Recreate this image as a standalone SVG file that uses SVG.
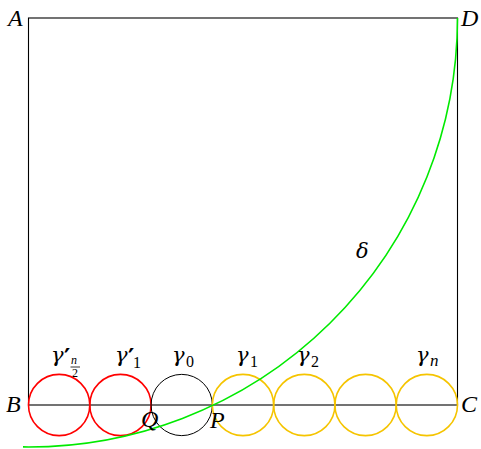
<svg xmlns="http://www.w3.org/2000/svg" width="481" height="449" viewBox="0 0 481 449">
<style>
.lbl{font-family:"Liberation Serif","Times New Roman",serif;font-style:italic;font-size:24px;fill:#000}
.g{font-family:"DejaVu Serif","Liberation Serif",serif;font-style:italic;font-size:21px;fill:#000}
.sub{font-family:"Liberation Serif","Times New Roman",serif;font-style:normal;font-size:16px;fill:#000}
.pr{font-family:"DejaVu Sans",sans-serif;font-style:normal;font-weight:bold;font-size:24px;fill:#000}
.subi{font-family:"Liberation Serif","Times New Roman",serif;font-style:italic;font-size:17px;fill:#000}
.frac{font-family:"Liberation Serif","Times New Roman",serif;font-size:12px;fill:#000}
.red{fill:none;stroke:#ff0000;stroke-width:1.6}
.yel{fill:none;stroke:#f5c400;stroke-width:1.6}
.blk{fill:none;stroke:#000;stroke-width:1}
</style>
<rect width="481" height="449" fill="#fff"/>
<g id="frame">
<rect x="28.5" y="18" width="429" height="387" fill="none" stroke="#000" stroke-width="1.1"/>
</g>
<g id="circles">
<g id="gamma_n2"><circle class="red" cx="59.14" cy="405" r="30.64"/></g>
<g id="gamma1p"><circle class="red" cx="120.43" cy="405" r="30.64"/></g>
<g id="gamma0"><circle class="blk" cx="181.71" cy="405" r="30.64"/></g>
<g id="gamma1"><circle class="yel" cx="243" cy="405" r="30.64"/></g>
<g id="gamma2"><circle class="yel" cx="304.29" cy="405" r="30.64"/></g>
<g id="gamma3"><circle class="yel" cx="365.57" cy="405" r="30.64"/></g>
<g id="gamman"><circle class="yel" cx="426.86" cy="405" r="30.64"/></g>
</g>
<g id="connectors">
<path d="M457.5 18 A429 429 0 0 1 23 446.9" fill="none" stroke="#00ea00" stroke-width="1.6"/>
</g>
<g id="labels">
<text class="lbl" x="8" y="26">A</text>
<text class="lbl" x="461" y="26">D</text>
<text class="lbl" x="6" y="412">B</text>
<text class="lbl" x="461" y="412">C</text>
<text class="lbl" x="141" y="427">Q</text>
<text class="lbl" x="210" y="428">P</text>
<text class="g" x="356" y="258">δ</text>
<text class="g" x="51" y="362">γ</text><text class="pr" x="64" y="366">′</text>
<text class="frac" x="71" y="364" font-style="italic">n</text><line x1="70.5" y1="367" x2="80" y2="367" stroke="#000" stroke-width="0.8"/><text class="frac" x="72" y="377">2</text>
<text class="g" x="115" y="362">γ</text><text class="pr" x="128" y="366">′</text><text class="sub" x="133" y="368">1</text>
<text class="g" x="172" y="362">γ</text><text class="sub" x="186" y="367">0</text>
<text class="g" x="236" y="362">γ</text><text class="sub" x="250" y="367">1</text>
<text class="g" x="297" y="362">γ</text><text class="sub" x="311" y="367">2</text>
<text class="g" x="416" y="362">γ</text><text class="subi" x="430" y="366">n</text>
</g>
</svg>
